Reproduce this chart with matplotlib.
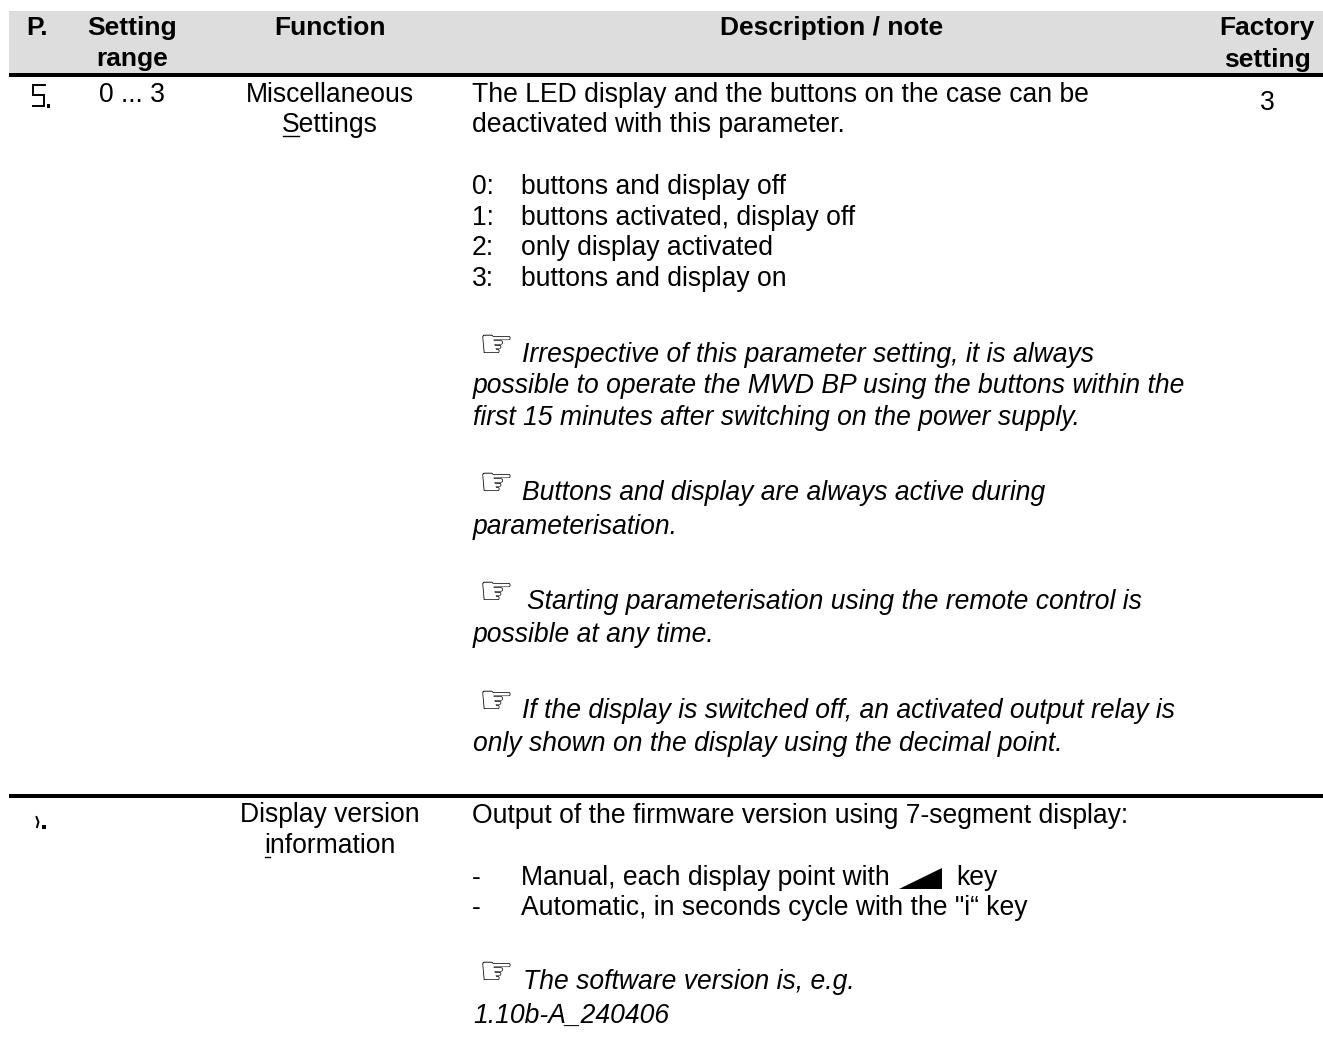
import matplotlib
matplotlib.use("Agg")
import matplotlib.pyplot as plt
from matplotlib.patches import Rectangle, Polygon

W, H = 1323, 1057
SANS = ["Liberation Sans", "DejaVu Sans"]
FS = 19.1
FS_HEAD = 19

# header cells: text, x centre, baseline
header_text = ["P.", "Setting", "range", "Function", "Description / note", "Factory", "setting"]
header_x = [37, 132, 132, 330, 832, 1267, 1267]
header_y = [35, 35, 66, 35, 35, 35, 67]

# centred body cells
centre_text = ["0 ... 3", "Miscellaneous", "Settings", "3", "Display version", "information"]
centre_x = [132, 330, 330, 1267, 330, 330]
centre_y = [102, 102, 132, 110, 822, 853]

# description lines
plain_text = [
    "The LED display and the buttons on the case can be",
    "deactivated with this parameter.",
    "Output of the firmware version using 7-segment display:",
]
plain_y = [102, 132, 823]

option_keys = ["0:", "1:", "2:", "3:"]
option_text = ["buttons and display off", "buttons activated, display off",
               "only display activated", "buttons and display on"]
option_y = [194, 225, 255, 286]

dash_text = ["Manual, each display point with", "Automatic, in seconds cycle with the \"i\u201c key"]
dash_y = [885, 915]

note_text = [
    "Irrespective of this parameter setting, it is always",
    "possible to operate the MWD BP using the buttons within the",
    "first 15 minutes after switching on the power supply.",
    "Buttons and display are always active during",
    "parameterisation.",
    "Starting parameterisation using the remote control is",
    "possible at any time.",
    "If the display is switched off, an activated output relay is",
    "only shown on the display using the decimal point.",
    "The software version is, e.g.",
    "1.10b-A_240406",
]
note_x = [522, 473, 473, 522, 473, 527, 473, 522, 473, 523, 473]
note_y = [362, 393, 425, 500, 534, 609, 642, 718, 751, 989, 1023]
hand_y = [357, 495, 604, 713, 984]

fig = plt.figure(figsize=(W / 100, H / 100), dpi=100, facecolor="white")
ax = fig.add_axes([0, 0, 1, 1])
ax.set_xlim(0, W)
ax.set_ylim(H, 0)
ax.axis("off")

ax.add_patch(Rectangle((9, 11), W - 9, 62, facecolor="#dddddd", edgecolor="none"))
ax.add_patch(Rectangle((9, 73), W - 9, 4, facecolor="black", edgecolor="none"))
ax.add_patch(Rectangle((9, 794), W - 9, 4, facecolor="black", edgecolor="none"))

for t, x, y in zip(header_text, header_x, header_y):
    ax.text(x, y, t, ha="center", va="baseline", family=SANS, fontsize=FS_HEAD, fontweight="bold", color="black")
for t, x, y in zip(centre_text, centre_x, centre_y):
    ax.text(x, y, t, ha="center", va="baseline", family=SANS, fontsize=FS, color="black")
for t, y in zip(plain_text, plain_y):
    ax.text(472, y, t, ha="left", va="baseline", family=SANS, fontsize=FS, color="black")
for k, t, y in zip(option_keys, option_text, option_y):
    ax.text(472, y, k, ha="left", va="baseline", family=SANS, fontsize=FS, color="black")
    ax.text(521, y, t, ha="left", va="baseline", family=SANS, fontsize=FS, color="black")
for t, y in zip(dash_text, dash_y):
    ax.text(472, y, "-", ha="left", va="baseline", family=SANS, fontsize=FS, color="black")
    ax.text(521, y, t, ha="left", va="baseline", family=SANS, fontsize=FS, color="black")
for t, x, y in zip(note_text, note_x, note_y):
    ax.text(x, y, t, ha="left", va="baseline", family=SANS, fontsize=FS, style="italic", color="black")
for y in hand_y:
    ax.text(479, y, "\u261e", ha="left", va="baseline", family="DejaVu Sans", fontsize=28, color="black")

# underlined access letters
ax.plot([283, 299], [136, 136], color="black", lw=1)
ax.plot([265, 270], [857, 857], color="black", lw=1)

# key symbol
ax.add_patch(Polygon([(899, 889), (942, 868), (942, 889)], facecolor="black", edgecolor="none"))
ax.text(956, 885, "key", ha="left", va="baseline", family=SANS, fontsize=FS, color="black")

# seven segment "5." and cut off "i."
ax.plot([45, 33, 33, 44, 44, 33], [85, 85, 95, 95, 106, 106], color="black", lw=1.4, solid_joinstyle="miter")
ax.add_patch(Rectangle((47, 104), 3, 4, facecolor="black", edgecolor="none"))
ax.plot([36.5, 38.5, 37], [817, 822, 827], color="black", lw=1.4)
ax.add_patch(Rectangle((42, 825), 4, 4, facecolor="black", edgecolor="none"))

fig.savefig("out.png", dpi=100)
